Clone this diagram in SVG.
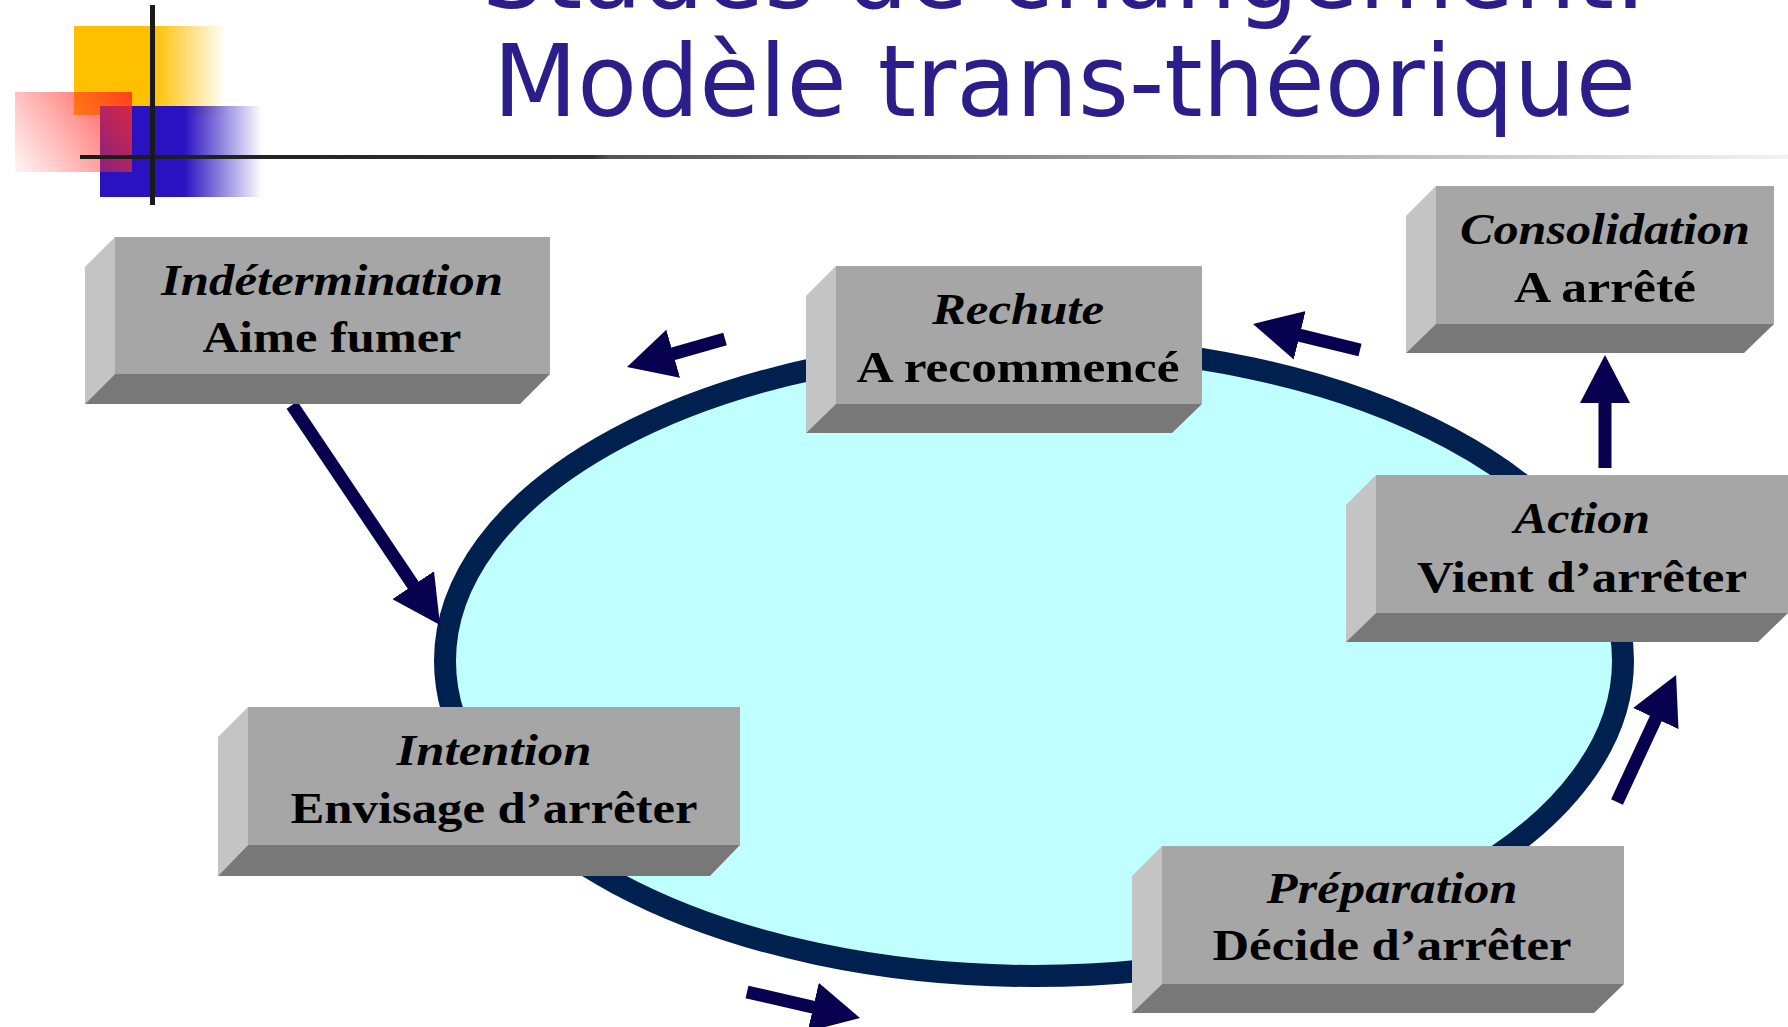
<svg xmlns="http://www.w3.org/2000/svg" width="1788" height="1027" viewBox="0 0 1788 1027">
<style>
.front{fill:#a6a6a6}
.side{fill:#c4c4c4}
.bot{fill:#787878}
.t1{font-family:"Liberation Serif","Times New Roman",serif;font-weight:bold;font-style:italic;font-size:45px;fill:#000;text-anchor:middle}
.t2{font-family:"Liberation Serif","Times New Roman",serif;font-weight:bold;font-size:45px;fill:#000;text-anchor:middle}
.title{font-family:"DejaVu Sans Condensed","DejaVu Sans",sans-serif;font-size:100px;fill:#2b1e8a}
.shaft{stroke:#07004f;stroke-width:13;fill:none;marker-end:url(#head)}
</style>
<defs>
<marker id="head" markerUnits="userSpaceOnUse" markerWidth="48" markerHeight="50" refX="8" refY="25" orient="auto" viewBox="0 0 48 50">
<path d="M0,0 L48,25 L0,50 z" fill="#07004f"/>
</marker>
<linearGradient id="gy" x1="74" y1="0" x2="226" y2="0" gradientUnits="userSpaceOnUse">
<stop offset="0" stop-color="#ffc000"/><stop offset="0.52" stop-color="#ffc000"/><stop offset="1" stop-color="#ffc000" stop-opacity="0"/>
</linearGradient>
<linearGradient id="gb" x1="100" y1="0" x2="262" y2="0" gradientUnits="userSpaceOnUse">
<stop offset="0" stop-color="#2a12c0"/><stop offset="0.52" stop-color="#2a12c0"/><stop offset="1" stop-color="#2a12c0" stop-opacity="0"/>
</linearGradient>
<linearGradient id="gp" x1="15" y1="172" x2="132" y2="92" gradientUnits="userSpaceOnUse">
<stop offset="0" stop-color="#ff4040" stop-opacity="0.05"/><stop offset="1" stop-color="#ff2a20" stop-opacity="0.85"/>
</linearGradient>
<linearGradient id="gl" x1="80" y1="0" x2="1788" y2="0" gradientUnits="userSpaceOnUse">
<stop offset="0" stop-color="#1a1a1a"/><stop offset="0.3" stop-color="#333"/><stop offset="0.31" stop-color="#555"/><stop offset="1" stop-color="#f2f2f2"/>
</linearGradient>
</defs>
<rect width="1788" height="1027" fill="#fff"/>
<g id="logo">
<rect x="74" y="26" width="152" height="89" fill="url(#gy)"/>
<rect x="100" y="106" width="162" height="91" fill="url(#gb)"/>
<rect x="15" y="92" width="117" height="80" fill="url(#gp)"/>
<rect x="80" y="155" width="1708" height="4" fill="url(#gl)"/>
<rect x="150" y="5" width="5" height="200" fill="#1a1a1a"/>
</g>
<g id="title">
<text class="title" x="482" y="8" textLength="1165" lengthAdjust="spacingAndGlyphs">Stades de changement:</text>
<text class="title" x="493" y="116" textLength="1143" lengthAdjust="spacingAndGlyphs">Modèle trans-théorique</text>
</g>
<g id="cycle">
<ellipse cx="1034" cy="661" rx="589" ry="315" fill="#bfffff" stroke="#002050" stroke-width="22"/>
</g>
<g id="connectors">
<line class="shaft" x1="292" y1="405" x2="417.7" y2="591.8"/>
<line class="shaft" x1="725" y1="339" x2="665.5" y2="356"/>
<line class="shaft" x1="1360" y1="350" x2="1291.9" y2="333.4"/>
<line class="shaft" x1="747" y1="992" x2="821" y2="1009"/>
<line class="shaft" x1="1605" y1="468" x2="1605" y2="395"/>
<line class="shaft" x1="1617" y1="802" x2="1659.2" y2="711.3"/>
</g>
<g id="indetermination">
<polygon class="side" points="115,237 85,267 85,404 115,374"/>
<polygon class="bot" points="115,374 550,374 520,404 85,404"/>
<rect class="front" x="115" y="237" width="435" height="137"/>
<text class="t1" x="332" y="295" textLength="342" lengthAdjust="spacingAndGlyphs">Indétermination</text>
<text class="t2" x="332" y="352" textLength="259" lengthAdjust="spacingAndGlyphs">Aime fumer</text>
</g>
<g id="rechute">
<polygon class="side" points="836,266 806,296 806,433 836,404"/>
<polygon class="bot" points="836,404 1202,404 1172,433 806,433"/>
<rect class="front" x="836" y="266" width="366" height="138"/>
<text class="t1" x="1018" y="324" textLength="172" lengthAdjust="spacingAndGlyphs">Rechute</text>
<text class="t2" x="1018" y="382" textLength="323" lengthAdjust="spacingAndGlyphs">A recommencé</text>
</g>
<g id="consolidation">
<polygon class="side" points="1436,186 1406,216 1406,353 1436,324"/>
<polygon class="bot" points="1436,324 1774,324 1744,353 1406,353"/>
<rect class="front" x="1436" y="186" width="338" height="138"/>
<text class="t1" x="1605" y="244" textLength="290" lengthAdjust="spacingAndGlyphs">Consolidation</text>
<text class="t2" x="1605" y="302" textLength="182" lengthAdjust="spacingAndGlyphs">A arrêté</text>
</g>
<g id="action">
<polygon class="side" points="1376,475 1346,505 1346,642 1376,613"/>
<polygon class="bot" points="1376,613 1788,613 1758,642 1346,642"/>
<rect class="front" x="1376" y="475" width="412" height="138"/>
<text class="t1" x="1582" y="533" textLength="136" lengthAdjust="spacingAndGlyphs">Action</text>
<text class="t2" x="1582" y="592" textLength="330" lengthAdjust="spacingAndGlyphs">Vient d’arrêter</text>
</g>
<g id="intention">
<polygon class="side" points="248,707 218,737 218,876 248,845"/>
<polygon class="bot" points="248,845 740,845 710,876 218,876"/>
<rect class="front" x="248" y="707" width="492" height="138"/>
<text class="t1" x="494" y="765" textLength="195" lengthAdjust="spacingAndGlyphs">Intention</text>
<text class="t2" x="494" y="823" textLength="407" lengthAdjust="spacingAndGlyphs">Envisage d’arrêter</text>
</g>
<g id="preparation">
<polygon class="side" points="1162,846 1132,876 1132,1013 1162,984"/>
<polygon class="bot" points="1162,984 1624,984 1594,1013 1132,1013"/>
<rect class="front" x="1162" y="846" width="462" height="138"/>
<text class="t1" x="1392" y="903" textLength="251" lengthAdjust="spacingAndGlyphs">Préparation</text>
<text class="t2" x="1392" y="960" textLength="359" lengthAdjust="spacingAndGlyphs">Décide d’arrêter</text>
</g>
</svg>
